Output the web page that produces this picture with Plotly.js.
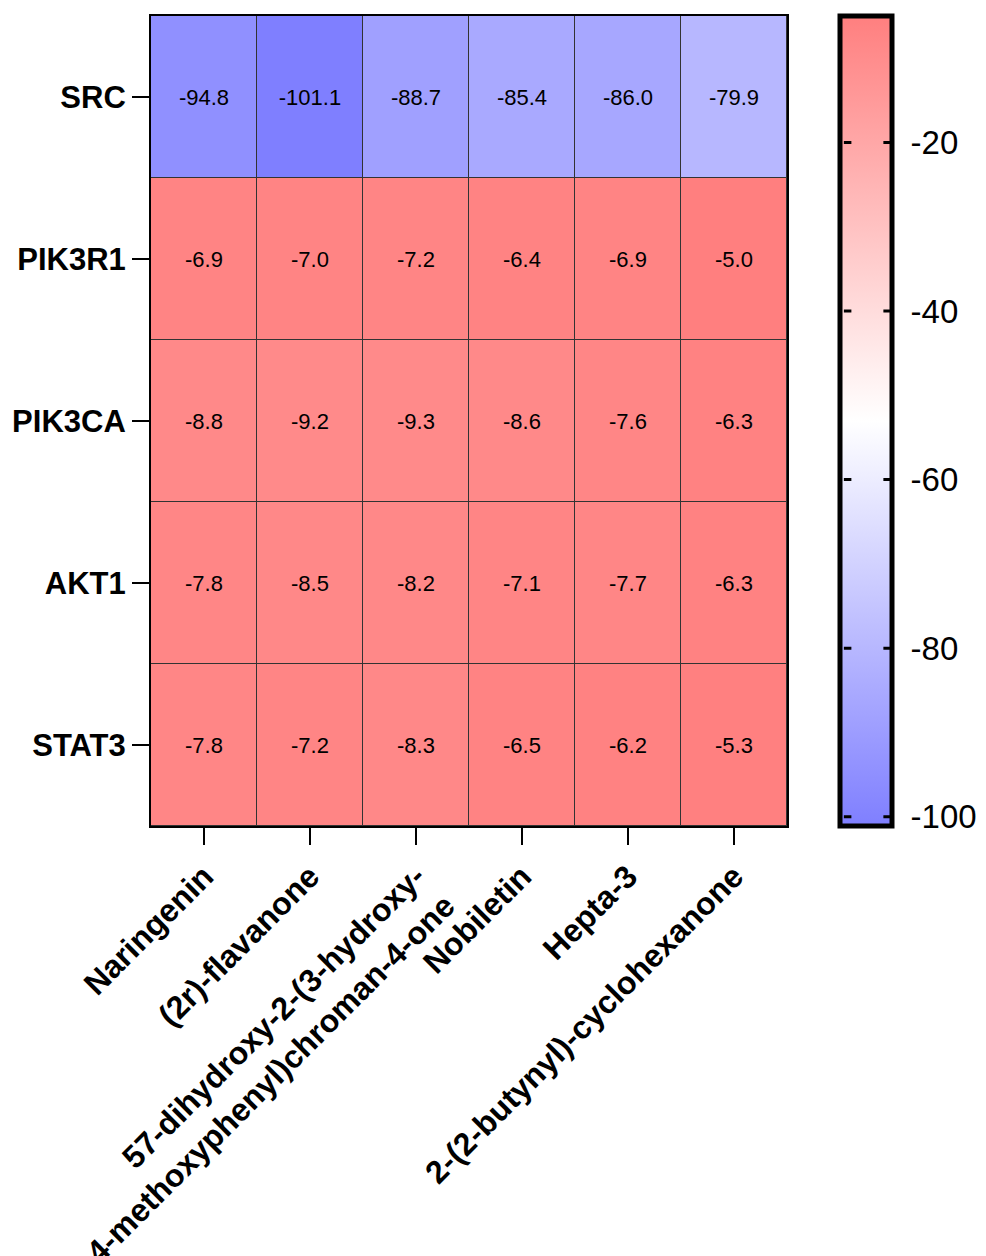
<!DOCTYPE html>
<html>
<head>
<meta charset="utf-8">
<script src="https://cdn.plot.ly/plotly-3.0.1.min.js"></script>
<style>html,body{margin:0;padding:0;background:#fff;}#chart{width:986px;height:1256px;}</style>
</head>
<body>
<div id="chart"></div>
<script>
// Data
const compounds = ["Naringenin", "(2r)-flavanone", "57-dihydroxy-2-(3-hydroxy-<br>4-methoxyphenyl)chroman-4-one", "Nobiletin", "Hepta-3", "2-(2-butynyl)-cyclohexanone"];
const targets = ["SRC", "PIK3R1", "PIK3CA", "AKT1", "STAT3"];
const SRC    = [-94.8, -101.1, -88.7, -85.4, -86.0, -79.9];
const PIK3R1 = [-6.9, -7.0, -7.2, -6.4, -6.9, -5.0];
const PIK3CA = [-8.8, -9.2, -9.3, -8.6, -7.6, -6.3];
const AKT1   = [-7.8, -8.5, -8.2, -7.1, -7.7, -6.3];
const STAT3  = [-7.8, -7.2, -8.3, -6.5, -6.2, -5.3];
const cbTicks = [-20, -40, -60, -80, -100];

const z = [SRC, PIK3R1, PIK3CA, AKT1, STAT3];
const allVals = z.flat();
const zmin = Math.min(...allVals), zmax = Math.max(...allVals);

const FONT = "Arial, 'Liberation Sans', sans-serif";
const plotW = 636;
const cbX = 1.08 + 2 / plotW;
const cbThick = 52;

const trace = {
  type: "heatmap",
  x: compounds,
  y: targets,
  z: z,
  zmin: zmin, zmax: zmax,
  colorscale: [[0, "#7f7fff"], [0.5, "#ffffff"], [1, "#ff7f7f"]],
  xgap: 1, ygap: 1,
  texttemplate: "%{z:.1f}",
  textfont: {family: FONT, size: 22, color: "#000"},
  hoverinfo: "x+y+z",
  colorbar: {
    x: cbX, xanchor: "left", y: 0.5, yanchor: "middle",
    len: 1, lenmode: "fraction",
    thickness: cbThick, thicknessmode: "pixels",
    outlinewidth: 5, outlinecolor: "#000",
    tickvals: cbTicks, ticktext: cbTicks.map(String),
    ticks: "outside", ticklen: 10, tickwidth: 1, tickcolor: "rgba(0,0,0,0)",
    tickfont: {family: FONT, size: 33, color: "#000"},
    xpad: 0, ypad: 0
  }
};

// inside tick marks on both sides of the colorbar (decoration)
const annotations = [];
cbTicks.forEach(v => {
  const yp = (v - zmin) / (zmax - zmin);
  annotations.push({xref: "paper", yref: "paper", x: cbX + 4 / plotW, y: yp,
    text: "", showarrow: true, arrowhead: 0, arrowwidth: 3, arrowcolor: "#000",
    ax: 9, ay: 0, standoff: 0, startstandoff: 0});
  annotations.push({xref: "paper", yref: "paper", x: cbX + (cbThick - 1) / plotW, y: yp,
    text: "", showarrow: true, arrowhead: 0, arrowwidth: 3, arrowcolor: "#000",
    ax: -9, ay: 0, standoff: 0, startstandoff: 0});
});

const layout = {
  width: 986, height: 1256,
  margin: {l: 151, r: 199, t: 16, b: 430, autoexpand: false},
  paper_bgcolor: "#fff",
  plot_bgcolor: "#333",
  font: {family: FONT, color: "#000"},
  xaxis: {
    type: "category",
    tickangle: -45,
    ticks: "outside", ticklen: 17, tickwidth: 2, tickcolor: "#000",
    tickfont: {family: FONT, size: 32, color: "#000", weight: "bold"},
    showline: true, linecolor: "#000", linewidth: 2, mirror: true,
    showgrid: false, zeroline: false
  },
  yaxis: {
    type: "category",
    autorange: "reversed",
    ticks: "outside", ticklen: 17, tickwidth: 2, tickcolor: "#000",
    tickfont: {family: FONT, size: 31, color: "#000", weight: "bold"},
    showline: true, linecolor: "#000", linewidth: 2, mirror: true,
    showgrid: false, zeroline: false
  },
  annotations: annotations
};

Plotly.newPlot("chart", [trace], layout, {displayModeBar: false, staticPlot: true});
</script>
</body>
</html>
